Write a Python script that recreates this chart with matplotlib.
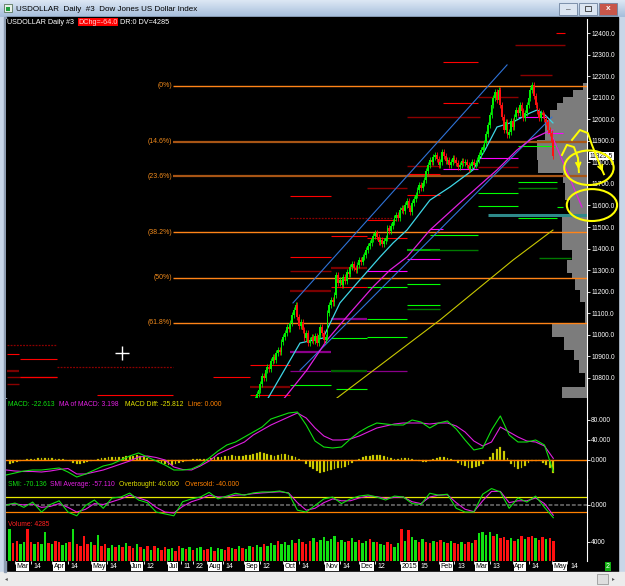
import numpy as np
import matplotlib.pyplot as plt
import matplotlib.transforms as mtransforms
from matplotlib.patches import Rectangle, Ellipse
from matplotlib.colors import LinearSegmentedColormap

plt.rcParams['font.family'] = ['Liberation Sans', 'DejaVu Sans']

W, H = 625, 586
T0 = '2014-03-03'   # day 0 of the trading-day axis

# ---------------- data ----------------
candle_start = 136          # first visible candle (trading day index)
first_open = 10680
closes = [10700, 10725, 10745, 10770, 10810, 10800, 10835, 10850, 10840, 10880,
          10897, 10885, 10915, 10930, 10920, 10965, 10990, 11010, 11036, 11025,
          11055, 11090, 11115, 11138, 11083, 11040, 11060, 11022, 10985, 11010,
          10962, 10975, 10990, 10970, 10995, 10962, 11000, 11036, 11010, 10975,
          10990, 11101, 11140, 11162, 11150, 11185, 11278, 11240, 11254, 11230,
          11268, 11250, 11291, 11280, 11315, 11330, 11310, 11300, 11325, 11347,
          11340, 11360, 11370, 11395, 11410, 11426, 11445, 11460, 11472, 11455,
          11430, 11440, 11420, 11435, 11449, 11496, 11480, 11505, 11523, 11540,
          11556, 11540, 11579, 11590, 11575, 11602, 11620, 11590, 11570, 11610,
          11630, 11649, 11670, 11695, 11680, 11705, 11718, 11760, 11790, 11811,
          11800, 11825, 11834, 11815, 11790, 11802, 11848, 11830, 11805, 11811,
          11788, 11800, 11820, 11811, 11795, 11780, 11788, 11805, 11795, 11802,
          11790, 11770, 11783, 11800, 11790, 11797, 11811, 11835, 11857, 11870,
          11890, 11930, 11973, 12020, 12066, 12100, 12126, 12090, 12136, 12066,
          12010, 11950, 11985, 11927, 11940, 11990, 11964, 12010, 12043, 12030,
          12066, 12040, 12006, 12030, 12066, 12100, 12136, 12159, 12110, 12066,
          12040, 12006, 12030, 12020, 12000, 11987, 11950, 11936, 11893.5, 11829.5]

# moving averages (day, price vertices)
cyan_day = [142.8, 161.5, 174.5, 184.1, 193.8, 206.8, 214.2, 222.1, 235.1, 246.5,
            259.5, 266.3, 273.1, 282.2, 291.8, 295.8, 300.3, 304.8]
cyan_ma = [10698, 10962, 10985, 11148, 11240, 11361, 11426, 11486, 11625, 11686,
           11765, 11857, 11964, 11987, 12029, 12043, 12020, 11983]
mag_day = [151.8, 165.4, 176.8, 189.8, 202.8, 212.5, 222.1, 235.1, 253.8, 273.1,
           284.4, 291.8, 301.4, 304.8]
mag_ma = [10698, 10837, 10976, 11101, 11222, 11301, 11361, 11486, 11625, 11765,
          11857, 11904, 11941, 11950]
yel_day = [182.4, 240.8, 282.2, 304.8]
yel_ma = [10707, 11069, 11347, 11486]
proj_day = [304.8, 321.2]
proj_price = [11913, 11593]

chan_up_day = [157.5, 278.8]
chan_up = [11148, 12252]
chan_lo_day = [161.5, 304.2]
chan_lo = [10836, 12010]

fib_high, fib_low = 12155, 10375
fib_ratios = [0, 0.146, 0.236, 0.382, 0.5, 0.618]
fib_names = ['(0%)', '(14.6%)', '(23.6%)', '(38.2%)', '(50%)', '(61.8%)']

# support / resistance segments: start day, end day, price, kind
segments = [
    (-4.5, 2.3, 10911, 'R'), (2.8, 23.8, 10888, 'R'), (-4.5, 23.8, 10953, 'DRd'),
    (23.8, 89.5, 10851, 'DRd'), (-4.5, 2.3, 10832, 'DR2'), (-4.5, 23.8, 10804, 'DR'),
    (2.8, 23.8, 10806, 'R'), (-4.5, 2.3, 10772, 'DR'), (46.5, 89.5, 10721, 'R'),
    (112.2, 133.1, 10804, 'R'), (133.1, 155.8, 10860, 'R'), (133.1, 155.8, 10758, 'DR2'),
    (133.1, 155.8, 10721, 'R'), (155.8, 179, 11361, 'R'), (155.8, 179, 11296, 'DR'),
    (155.8, 179, 11203, 'DR2'), (155.8, 179, 10920, 'P2'), (155.8, 179, 10767, 'G'),
    (155.8, 222.1, 10832, 'P'), (155.8, 179, 11644, 'R'), (155.8, 214, 11542, 'DRd'),
    (179, 199.4, 11458, 'R'), (179, 199.4, 11310, 'DR2'), (179, 199.4, 11222, 'R'),
    (179, 199.4, 11074, 'P2'), (179, 199.4, 10985, 'G'), (179, 199.4, 10832, 'DG2'),
    (182, 199.4, 10749, 'G'), (199.4, 222.1, 11681, 'DR'), (199.4, 216, 11533, 'R'),
    (199.4, 222.1, 11449, 'R'), (199.4, 222.1, 11296, 'M'), (199.4, 222.1, 11222, 'G'),
    (199.4, 222.1, 11074, 'G'), (199.4, 222.1, 10990, 'G'), (222.1, 263.5, 12010, 'DR'),
    (222.1, 240.8, 11783, 'DR'), (222.1, 240.8, 11748, 'R'), (222.1, 240.8, 11649, 'R'),
    (222.1, 240.8, 11394, 'G2'), (222.1, 240.8, 11352, 'M'), (222.1, 240.8, 11236, 'G'),
    (222.1, 240.8, 11138, 'G'), (222.1, 240.8, 11120, 'DG'), (235.1, 242.5, 11491, 'M'),
    (235.1, 262.3, 11463, 'G'), (235.1, 262.3, 11394, 'DG'), (242.5, 262.3, 12265, 'R'),
    (242.5, 262.3, 12075, 'R'), (242.5, 262.3, 11769, 'M'), (262.3, 285, 12103, 'DR'),
    (262.3, 285, 11820, 'M'), (262.3, 285, 11779, 'DR'), (262.3, 285, 11658, 'G'),
    (262.3, 285, 11598, 'G'), (283.3, 311.6, 12344, 'DR'), (306.5, 311.6, 12400, 'R'),
    (286.1, 304.2, 12205, 'DR'), (285, 301.4, 12010, 'M'), (301.4, 310.5, 11936, 'M'),
    (285, 307.1, 11876, 'G'), (285, 307.1, 11709, 'G'), (285, 307.1, 11681, 'DG'),
    (307.1, 310.5, 11593, 'G'), (268, 324, 11556, 'T'), (285, 307.1, 11542, 'G'),
    (297, 315, 11355, 'DG'),
]

# volume-at-price profile (price edges, relative volume)
profile_edges = [12168, 12136, 12103, 12075, 12043, 11997, 11904, 11811, 11751, 11704,
                 11625, 11547, 11440, 11394, 11347, 11287, 11264, 11208, 11152, 11055,
                 10990, 10930, 10883, 10823, 10758, 10698]
profile_vol = [2.3, 7.9, 13.6, 17, 21, 23.8, 28.3, 27.8, 13.6, 12.5, 9.6, 14.2, 14.2,
               8.5, 11.3, 8.5, 6.8, 4, 1.1, 19.8, 13, 7.4, 4.5, 1.1, 14.2]

# indicators sampled every 5 trading days from day -5
line_start, line_step = -5, 5
macd = [-30, -26, -22, -20, -20, -18, -16, -24, -34, -28,
        -20, -12, -8, 0, 8, 14, 6, -2, -10, -20,
        -20, -18, -10, 4, 18, 30, 36, 46, 56, 66,
        82, 88, 94, 96, 70, 38, 26, 24, 26, 42,
        56, 66, 74, 72, 70, 70, 80, 76, 64, 74,
        78, 62, 40, 20, 24, 60, 88, 50, 36, 36,
        40, 30, -22.6]
macd_ma = [-20, -22, -23, -23, -24, -22, -19, -17, -28, -28,
           -24, -20, -14, -8, -2, 6, 8, 5, 0, -14,
           -19, -20, -12, -2, 12, 20, 28, 36, 50, 60,
           70, 78, 86, 94, 84, 64, 48, 40, 40, 42,
           48, 56, 64, 68, 72, 74, 74, 74, 72, 74,
           74, 68, 56, 38, 28, 36, 66, 56, 46, 38,
           36, 28, 3.2]
smi = [-3, 8, -15, 13, -40, 0, 20, -40, -60, -5,
       24, -20, 35, 40, 61, 24, 10, -40, -50, -60,
       15, 30, 40, 65, 30, 45, 60, 50, 62, 67,
       67, 72, 60, -30, -40, -5, 30, 40, 5, 30,
       45, 51, 40, 24, 45, 40, 5, 0, 60, 50,
       55, -20, -40, -40, 55, 85, 67, -20, 35, 13,
       45, -15, -70.1]
smi_avg = [0, 3, -2, 2, -15, -10, 5, -15, -40, -25,
           5, 0, 15, 30, 50, 35, 20, -15, -40, -45,
           -10, 15, 30, 50, 40, 40, 50, 52, 58, 62,
           65, 68, 62, 10, -30, -20, 10, 30, 20, 20,
           35, 45, 42, 32, 38, 40, 15, 5, 40, 50,
           52, 10, -25, -38, 20, 70, 70, 10, 20, 20,
           35, 5, -57.1]

# histogram and volume sampled every 2 trading days from day -3
bar_start, bar_step = -3, 2
macd_diff = [-8, -6, -4, -2, 0, 2, 3, 3, 4, 4,
             4, 5, 4, 3, 3, 2, 1, -2, -5, -7,
             -8, -6, -4, -2, 0, 2, 4, 5, 6, 7,
             6, 6, 7, 8, 8, 9, 10, 9, 7, 4,
             1, -2, -4, -6, -8, -10, -9, -8, -6, -3,
             -1, 1, 2, 2, 3, 2, 3, 5, 6, 6,
             7, 8, 9, 10, 9, 8, 9, 10, 11, 12,
             14, 16, 14, 12, 10, 9, 11, 13, 12, 10,
             8, 6, 3, -2, -8, -14, -18, -22, -26, -24,
             -22, -20, -18, -16, -15, -14, -10, -6, -2, 3,
             6, 8, 9, 10, 11, 10, 8, 6, 4, 2,
             2, 4, 5, 4, 3, 1, -1, -3, -3, -2,
             2, 5, 7, 6, 4, 2, -2, -6, -9, -12,
             -15, -16, -14, -12, -8, -2, 6, 15, 22, 26,
             18, 4, -8, -14, -18, -16, -12, -6, -2, -1,
             1, -5, -10, -16, -25.8]
volume = [6700, 3800, 4300, 3600, 4100, 6700, 3900, 3500, 4100, 3600,
          6100, 3800, 3500, 4200, 3900, 3400, 3800, 4000, 6700, 3600,
          3200, 5300, 3500, 4000, 3300, 5500, 3100, 3600, 2800, 3300,
          3000, 3400, 2900, 3800, 3200, 2700, 3500, 3000, 2600, 3200,
          2400, 3100, 2700, 2300, 3000, 2600, 2800, 2200, 3100, 2700,
          2500, 2900, 2300, 2700, 3000, 2400, 2600, 2900, 2200, 2800,
          2600, 2400, 3000, 2700, 2500, 3100, 2800, 2600, 3200, 2900,
          3300, 3000, 3500, 3100, 3800, 3400, 4200, 3600, 3900, 3300,
          4400, 3800, 4600, 4000, 3600, 4200, 4800, 3900, 4400, 5000,
          4200, 4600, 5200, 4100, 4500, 3900, 4300, 4800, 4000, 4400,
          3800, 4200, 4600, 3900, 4100, 3600, 3300, 4000, 3500, 3000,
          3800, 6700, 4200, 6500, 5000, 4400, 3900, 4600, 4100, 3800,
          4300, 3900, 4500, 4100, 3700, 4200, 3800, 3500, 4000, 3600,
          4100, 3800, 4400, 5900, 6200, 5500, 6000, 5200, 5600, 4800,
          5100, 4500, 4900, 4300, 4700, 5200, 4600, 5000, 5300, 4800,
          4500, 5000, 4700, 4900, 4285]
volume_dir = ("grrggrrgrg" "grgrrggrgr" "rrrgrgrrgg" "rgrgrrgrgr" "grgrrggrrg"
              "rgrggrrgrg" "grrgrgrggr" "ggrgggrggg" "grgrrrgrgg" "gggrggrggr"
              "ggrgrggrrg" "grgrggrgrr" "grrgrgrrgr" "rgrggggrgr" "rrgrgrgrrg" "rrgrr")

month_ticks = [('2014-03-03', 'Mar'), ('2014-04-01', 'Apr'), ('2014-05-01', 'May'),
               ('2014-06-02', 'Jun'), ('2014-07-01', 'Jul'), ('2014-08-01', 'Aug'),
               ('2014-09-01', 'Sep'), ('2014-10-01', 'Oct'), ('2014-11-03', 'Nov'),
               ('2014-12-01', 'Dec'), ('2015-01-01', '2015'), ('2015-02-02', 'Feb'),
               ('2015-03-02', 'Mar'), ('2015-04-01', 'Apr'), ('2015-05-01', 'May')]
day_ticks = ['2014-03-14', '2014-04-14', '2014-05-14', '2014-06-12', '2014-07-11',
             '2014-07-22', '2014-08-14', '2014-09-12', '2014-10-14', '2014-11-14',
             '2014-12-12', '2015-01-15', '2015-02-13', '2015-03-13', '2015-04-14',
             '2015-05-14']

last_close = 11829.5
cursor_day, cursor_price = 60.6, 10916

# hand drawn yellow marks (day, price)
scribble_a = ([309.9, 312.7, 316.7, 319.0, 319.5], [11834, 11881, 11871, 11820, 11755])
scribble_b = ([315.6, 320.1, 324.6, 326.9, 331.4, 333.7], [11904, 11950, 11936, 11881, 11788, 11745])
circles = [(325.2, 11775, 28, 160), (326.9, 11602, 28.5, 148)]

# ---------------- styles ----------------
seg_style = {
    'R': ('#ff0000', 0.8, '-'), 'DR': ('#8b0000', 1.0, '-'), 'DR2': ('#7a0000', 1.6, '-'),
    'DRd': ('#8b0000', 0.9, (0, (1.5, 1))), 'G': ('#00ff00', 0.8, '-'),
    'G2': ('#00b000', 1.5, '-'), 'DG': ('#007a00', 1.0, '-'), 'DG2': ('#006400', 1.6, '-'),
    'M': ('#ff00ff', 0.8, '-'), 'P': ('#8a008a', 0.9, '-'), 'P2': ('#8a008a', 1.6, '-'),
    'T': ('#2e8a8a', 2.2, '-'),
}
XMIN, XMAX = -5.1, 324.1


def px_box(l, t, r, b):
    return [l / W, 1 - b / H, (r - l) / W, (b - t) / H]


def fy(y):
    return 1 - y / H


fig = plt.figure(figsize=(W / 100, H / 100), dpi=100)
fig.patch.set_facecolor('#c8d6e8')

# window chrome
frame = fig.add_axes([0, 0, 1, 1], zorder=-5)
frame.set_xlim(0, W)
frame.set_ylim(H, 0)
frame.axis('off')
tb = LinearSegmentedColormap.from_list('tb', ['#dce7f4', '#a6bedb'])
frame.imshow(np.linspace(0, 1, 20).reshape(-1, 1), extent=(0, W, 17, 0), cmap=tb, aspect='auto')
frame.add_patch(Rectangle((6, 17), 612, 555, color='black'))
frame.add_patch(Rectangle((0, 572), W, 14, color='#ececec'))
frame.add_patch(Rectangle((3.5, 17), 2, 555, color='#8c9bb0'))
frame.add_patch(Rectangle((597, 574), 11, 10, fc='#dedede', ec='#9a9a9a', lw=0.6))
frame.add_patch(Rectangle((4, 4), 8, 8, fc='#e8f0e8', ec='#406040', lw=0.5))
frame.add_patch(Rectangle((6, 7), 4, 4, fc='#20a040', lw=0))
for x0, fc in [(559, '#dbe5f1'), (579, '#dbe5f1'), (599, '#c8564a')]:
    frame.add_patch(Rectangle((x0, 3), 18, 12, fc=fc, ec='#6f84a0', lw=0.6))
frame.text(568, 10, '–', ha='center', va='center', fontsize=6, color='#333333')
frame.add_patch(Rectangle((585, 6), 6, 5, fc='none', ec='#333333', lw=0.6))
frame.text(608, 9, 'x', ha='center', va='center', fontsize=6, color='white', fontweight='bold')
frame.text(6, 579, '◂', ha='center', va='center', fontsize=4, color='#555555')
frame.text(613, 579, '▸', ha='center', va='center', fontsize=4, color='#555555')
fig.text(16 / W, fy(9.5), 'USDOLLAR  Daily  #3  Dow Jones US Dollar Index',
         fontsize=5.8, color='black', va='center')

ax_p = fig.add_axes(px_box(6, 19, 587, 398))
ax_m = fig.add_axes(px_box(6, 399, 587, 479))
ax_s = fig.add_axes(px_box(6, 479, 587, 519))
ax_v = fig.add_axes(px_box(6, 519, 587, 561))
for ax in (ax_p, ax_m, ax_s, ax_v):
    ax.set_facecolor('black')
    ax.set_xlim(XMIN, XMAX)
    for s in ('left', 'top', 'bottom'):
        ax.spines[s].set_visible(False)
    ax.spines['right'].set_color('white')
    ax.spines['right'].set_linewidth(0.8)
    ax.yaxis.tick_right()
    ax.tick_params(axis='y', colors='white', labelsize=4.8, length=2, width=0.6, pad=1)
    ax.tick_params(axis='x', bottom=False, labelbottom=False)

# ---------------- price panel ----------------
ax_p.set_ylim(10707, 12465)
pticks = np.arange(10800, 12401, 100)
ax_p.set_yticks(pticks)
ax_p.set_yticklabels([f'{v:.1f}' for v in pticks])

# volume profile
edges = np.array(profile_edges)
pv = np.array(profile_vol)
ax_p.barh((edges[:-1] + edges[1:]) / 2, pv, height=edges[:-1] - edges[1:],
          left=XMAX - pv, color='#7c7c7c', lw=0, zorder=1)

# fibonacci levels
for r, name in zip(fib_ratios, fib_names):
    lvl = fib_high - r * (fib_high - fib_low)
    if r in (0.146, 0.236):
        ax_p.hlines(lvl, 89.8, XMAX, color='#a85515', lw=1.6, zorder=2)
    else:
        ax_p.hlines(lvl, 89.8, XMAX, color='#ff8418', lw=1.0, zorder=2)
    ax_p.text(89.2, lvl, name, ha='right', va='center', fontsize=5, color='#f08a1c', zorder=3)

# segments
for d0, d1, price, kind in segments:
    c, lw, ls = seg_style[kind]
    ax_p.hlines(price, d0, d1, color=c, lw=lw, linestyles=ls, zorder=2)

# channel and averages
ax_p.plot(chan_up_day, chan_up, color='#2f73d8', lw=0.8, zorder=3)
ax_p.plot(chan_lo_day, chan_lo, color='#2f73d8', lw=0.8, zorder=3)
ax_p.plot(yel_day, yel_ma, color='#c8c800', lw=0.8, zorder=3)
ax_p.plot(mag_day, mag_ma, color='#e020e0', lw=0.9, zorder=3)
ax_p.plot(proj_day, proj_price, color='#e020e0', lw=0.9, zorder=3, clip_on=False)
ax_p.plot(cyan_day, cyan_ma, color='#3ed6e6', lw=0.9, zorder=4)

# candles
c = np.array(closes, dtype=float)
o = np.r_[first_open, c[:-1]]
days = candle_start + np.arange(len(c))
ccol = np.where(c >= o, '#00f000', '#ff1010')
body_lo = np.minimum(o, c)
body_h = np.maximum(np.abs(c - o), 4)
WICK = 14
ax_p.vlines(days, body_lo - WICK, body_lo + body_h + WICK, colors=ccol, lw=0.6, zorder=5)
ax_p.bar(days, body_h, bottom=body_lo, width=1.0, color=ccol, lw=0, zorder=5)

ax_p.plot(cursor_day, cursor_price, marker='+', ms=10, mew=1.0, color='white', zorder=6)

# last price box
trans = mtransforms.blended_transform_factory(ax_p.transAxes, ax_p.transData)
ax_p.text(1.005, last_close, f'{last_close:.1f}', transform=trans, fontsize=4.8, color='black',
          va='center', ha='left', bbox=dict(fc='white', ec='none', pad=0.5), zorder=15)

# yellow hand drawings
ax_p.plot(*scribble_a, color='#ffff00', lw=1.4, zorder=20, clip_on=False)
ax_p.plot(*scribble_b, color='#ffff00', lw=1.4, zorder=20, clip_on=False)
for xs, ys in (scribble_a, scribble_b):
    ax_p.annotate('', xy=(xs[-1], ys[-1]), xytext=(xs[-2], ys[-2]), annotation_clip=False,
                  arrowprops=dict(arrowstyle='->', color='#ffff00', lw=1.4,
                                  mutation_scale=8), zorder=20)
for cx, cy, w, h in circles:
    ax_p.add_patch(Ellipse((cx, cy), w, h, fill=False, ec='#ffff00', lw=1.5,
                           zorder=20, clip_on=False))

# header
fig.text(7 / W, fy(22), 'USDOLLAR Daily #3', fontsize=5.2, color='white', va='center')
fig.text(78 / W, fy(22), 'DChg=-64.0', fontsize=5.2, color='#ffd0d0', va='center',
         bbox=dict(fc='#ff0000', ec='none', pad=0.3))
fig.text(120 / W, fy(22), 'DR:0 DV=4285', fontsize=5.2, color='white', va='center')

# ---------------- MACD ----------------
ax_m.set_ylim(-38, 122)
ax_m.set_yticks([0, 40, 80])
ax_m.set_yticklabels(['0.000', '40.000', '80.000'])
lx = line_start + line_step * np.arange(len(macd))
bx = bar_start + bar_step * np.arange(len(macd_diff))
ax_m.bar(bx, macd_diff, width=1.0, color='#d8d800', edgecolor='#8a8a00', lw=0.2)
ax_m.axhline(0, color='#ff8000', lw=1.0)
ax_m.plot(lx, macd_ma, color='#e020e0', lw=0.8)
ax_m.plot(lx, macd, color='#10e010', lw=0.8)
for x, s, col in [(8, 'MACD: -22.613', '#10e010'), (59, 'MA of MACD: 3.198', '#e020e0'),
                  (125, 'MACD Diff: -25.812', '#e0e000'), (188, 'Line: 0.000', '#ff8000')]:
    fig.text(x / W, fy(404), s, fontsize=4.9, color=col, va='center')

# ---------------- SMI ----------------
ax_s.set_ylim(-77, 136)
ax_s.set_yticks([0])
ax_s.set_yticklabels(['0.000'])
ax_s.axhline(0, color='#5a5a5a', lw=1.4, ls=(0, (2, 1)))
ax_s.axhline(40, color='#e8e800', lw=0.9)
ax_s.axhline(-40, color='#ff8000', lw=0.9)
ax_s.plot(lx, smi_avg, color='#e020e0', lw=0.8)
ax_s.plot(lx, smi, color='#10e010', lw=0.8)
for x, s, col in [(8, 'SMI: -70.136', '#10e010'), (50, 'SMI Average: -57.110', '#e020e0'),
                  (119, 'Overbought: 40.000', '#e0e000'), (185, 'Oversold: -40.000', '#ff8000')]:
    fig.text(x / W, fy(484), s, fontsize=4.9, color=col, va='center')

# ---------------- volume ----------------
ax_v.set_ylim(0, 8840)
ax_v.set_yticks([4000])
ax_v.set_yticklabels(['4000'])
vcol = ['#10e010' if ch == 'g' else '#ff1010' for ch in volume_dir]
ax_v.bar(bx, volume, width=1.4, color=vcol, lw=0)
fig.text(8 / W, fy(524), 'Volume: 4285', fontsize=4.9, color='#ff2020', va='center')

# date axis
mdays = [np.busday_count(T0, d) for d, _ in month_ticks]
ddays = [np.busday_count(T0, d) for d in day_ticks]
ax_v.set_xticks(sorted(mdays + ddays))
ax_v.tick_params(axis='x', bottom=True, direction='out', length=2, width=0.6,
                 color='white', labelbottom=False)
xt = mtransforms.blended_transform_factory(ax_v.transData, ax_v.transAxes)
for d, (_, lab) in zip(mdays, month_ticks):
    ax_v.text(d + 0.9, -0.13, lab, transform=xt, fontsize=5, color='black', ha='left',
              va='center', bbox=dict(fc='white', ec='none', pad=0.4), clip_on=False)
for d, s in zip(ddays, day_ticks):
    ax_v.text(d + 1.5, -0.13, str(int(s[-2:])), transform=xt, fontsize=5, color='white',
              ha='left', va='center', clip_on=False)
fig.text(608 / W, fy(566.5), '2', fontsize=5, color='white', ha='center', va='center',
         bbox=dict(fc='#10b010', ec='none', pad=0.6))

fig.savefig('out.png', dpi=100, facecolor=fig.get_facecolor())
